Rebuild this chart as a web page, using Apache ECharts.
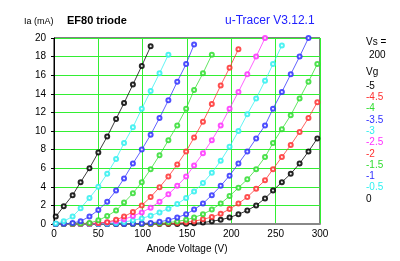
<!DOCTYPE html>
<html>
<head>
<meta charset="utf-8">
<script src="https://cdn.jsdelivr.net/npm/echarts@6/dist/echarts.min.js"></script>
<style>
  html, body { margin: 0; padding: 0; background: #fff; }
  #chart { width: 400px; height: 261px; }
</style>
</head>
<body>
<div id="chart"></div>
<script>
// anode voltage steps of the sweep (V)
var volts = [2, 11, 21, 30, 40, 50, 60, 70, 79, 89, 99, 109, 119, 129, 139, 149, 158, 168, 178, 188, 198, 208, 218, 228, 238, 247, 257, 267, 277, 287, 297];

// anode current (mA) per grid voltage, one value per sweep step
var ia_0    = [0.8, 1.9, 3.1, 4.5, 6.0, 7.7, 9.4, 11.3, 13.0, 15.0, 17.0, 19.1];
var ia_m05  = [0.05, 0.3, 0.8, 1.7, 2.8, 4.0, 5.4, 7.0, 8.7, 10.4, 12.4, 14.3, 16.2, 18.2];
var ia_m1   = [0, 0.02, 0.1, 0.3, 0.8, 1.5, 2.4, 3.6, 4.9, 6.5, 8.0, 9.6, 11.4, 13.3, 15.3, 17.2, 19.3];
var ia_m15  = [0, 0, 0.02, 0.05, 0.1, 0.4, 0.85, 1.45, 2.3, 3.3, 4.5, 5.9, 7.4, 9.0, 10.6, 12.4, 14.4, 16.2, 18.2];
var ia_m2   = [0, 0, 0, 0.02, 0.05, 0.1, 0.2, 0.45, 0.8, 1.3, 2.0, 2.9, 3.95, 5.1, 6.4, 7.8, 9.3, 11.0, 12.9, 14.9, 16.8, 18.8];
var ia_m25  = [0, 0, 0, 0.01, 0.03, 0.08, 0.15, 0.3, 0.5, 0.85, 1.25, 1.75, 2.4, 3.2, 4.1, 5.1, 6.3, 7.6, 9.0, 10.6, 12.4, 14.2, 16.1, 18.0, 20.0];
var ia_m3   = [0, 0, 0, 0, 0.01, 0.03, 0.06, 0.12, 0.22, 0.38, 0.6, 0.9, 1.25, 1.65, 2.15, 2.8, 3.5, 4.4, 5.5, 6.8, 8.3, 10.0, 11.8, 13.5, 15.4, 17.2, 19.2];
var ia_m35  = [0, 0, 0, 0, 0, 0, 0, 0, 0.01, 0.03, 0.06, 0.12, 0.24, 0.42, 0.7, 1.05, 1.55, 2.2, 3.1, 4.1, 5.2, 6.5, 7.8, 9.2, 10.6, 12.4, 14.2, 16.1, 18.0, 20.0];
var ia_m4   = [0, 0, 0, 0, 0, 0, 0, 0, 0, 0, 0.01, 0.03, 0.08, 0.15, 0.28, 0.45, 0.7, 1.05, 1.55, 2.2, 3.0, 3.9, 4.8, 5.9, 7.2, 8.7, 10.2, 11.7, 13.5, 15.3, 17.2];
var ia_m45  = [0, 0, 0, 0, 0, 0, 0, 0, 0, 0, 0, 0, 0.02, 0.05, 0.1, 0.18, 0.3, 0.5, 0.75, 1.1, 1.6, 2.2, 2.9, 3.8, 4.7, 5.9, 7.2, 8.5, 9.9, 11.4, 13.1];
var ia_m5   = [0, 0, 0, 0, 0, 0, 0, 0, 0, 0, 0, 0, 0, 0, 0, 0.03, 0.08, 0.15, 0.3, 0.45, 0.7, 1.05, 1.45, 2.0, 2.75, 3.6, 4.5, 5.4, 6.5, 7.8, 9.2];

var gridVolts  = ['-5', '-4.5', '-4', '-3.5', '-3', '-2.5', '-2', '-1.5', '-1', '-0.5', '0'];
var curveSets  = [ia_m5, ia_m45, ia_m4, ia_m35, ia_m3, ia_m25, ia_m2, ia_m15, ia_m1, ia_m05, ia_0];
var curveColors = ['#000000', '#ff3030', '#30dd30', '#3030ff', '#30f0f0', '#ff30ff', '#ff3030', '#30dd30', '#3030ff', '#30f0f0', '#000000'];

var yTicks = [0, 2, 4, 6, 8, 10, 12, 14, 16, 18, 20];
var xTicks = [0, 50, 100, 150, 200, 250, 300];

var font = 'Arial, "Liberation Sans", sans-serif';

function pairs(ia) {
    return ia.map(function (v, i) { return [volts[i], v]; });
}

var series = curveSets.map(function (ia, k) {
    return {
        name: 'Vg ' + gridVolts[k],
        type: 'line',
        data: pairs(ia),
        symbol: 'emptyCircle',
        symbolSize: 4,
        showSymbol: true,
        lineStyle: { width: 0.9, color: curveColors[k], opacity: 0.85 },
        itemStyle: { color: curveColors[k], borderWidth: 0.9, opacity: 0.85 },
        z: 3
    };
});

var graphics = [
    { type: 'text', left: 24, top: 17, style: { text: 'Ia (mA)', font: '9px ' + font, fill: '#000' } },
    { type: 'text', left: 67, top: 15, style: { text: 'EF80 triode', font: 'bold 11px ' + font, fill: '#000' } },
    { type: 'text', left: 225, top: 15, style: { text: 'u-Tracer V3.12.1', font: '12px ' + font, fill: '#2020ff' } },
    { type: 'text', left: 366, top: 37, style: { text: 'Vs =', font: '10px ' + font, fill: '#000' } },
    { type: 'text', left: 369, top: 50, style: { text: '200', font: '10px ' + font, fill: '#000' } },
    { type: 'text', left: 366, top: 67, style: { text: 'Vg', font: '10px ' + font, fill: '#000' } }
];
gridVolts.forEach(function (g, k) {
    graphics.push({
        type: 'text', left: 366, top: 81 + k * 11.3,
        style: { text: g, font: '10px ' + font, fill: curveColors[k] }
    });
});

var chart = echarts.init(document.getElementById('chart'));

var option = {
    animation: false,
    grid: {
        left: 54, right: 80, top: 38, bottom: 37,
        show: true, borderColor: '#000', borderWidth: 1
    },
    xAxis: {
        type: 'value',
        min: 0, max: 300, interval: 50,
        name: 'Anode Voltage (V)',
        nameLocation: 'middle',
        nameGap: 18,
        nameTextStyle: { fontFamily: font, fontSize: 10, color: '#000' },
        axisLine: { show: true, lineStyle: { color: '#888', width: 2 } },
        axisTick: { show: false },
        axisLabel: { fontFamily: font, fontSize: 10, color: '#000', margin: 5,
            formatter: function (v) { return xTicks.indexOf(v) >= 0 ? String(v) : ''; } },
        splitLine: { show: true, lineStyle: { color: '#33ee33', width: 1 } }
    },
    yAxis: {
        type: 'value',
        min: 0, max: 20, interval: 2,
        axisLine: { show: true, lineStyle: { color: '#000', width: 1 } },
        axisTick: { show: true, length: 3, lineStyle: { color: '#000' } },
        axisLabel: { fontFamily: font, fontSize: 10, color: '#000', margin: 8,
            formatter: function (v) { return yTicks.indexOf(v) >= 0 ? String(v) : ''; } },
        splitLine: { show: true, lineStyle: { color: '#33ee33', width: 1 } }
    },
    graphic: graphics,
    series: series
};

chart.setOption(option);
</script>
</body>
</html>
